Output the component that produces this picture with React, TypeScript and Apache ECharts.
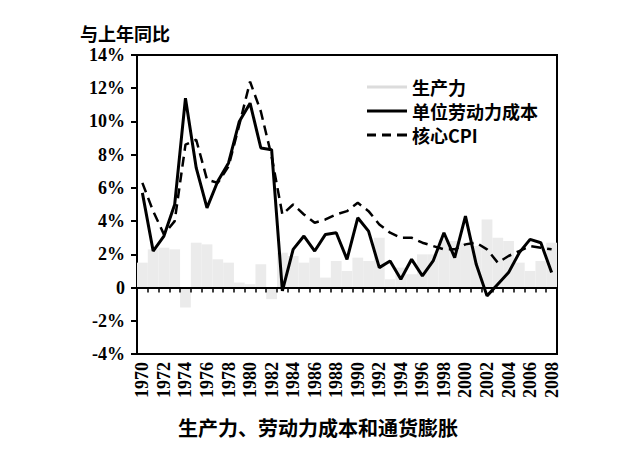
import React, { useEffect, useRef } from "react";
import * as echarts from "echarts";

const years = [
  "1970", "1971", "1972", "1973", "1974", "1975", "1976", "1977", "1978", "1979",
  "1980", "1981", "1982", "1983", "1984", "1985", "1986", "1987", "1988", "1989",
  "1990", "1991", "1992", "1993", "1994", "1995", "1996", "1997", "1998", "1999",
  "2000", "2001", "2002", "2003", "2004", "2005", "2006", "2007", "2008",
];

// 生产力 (faint stippled bars)
const productivity = [
  1.5, 2.3, 2.4, 2.3, -1.2, 2.7, 2.6, 1.7, 1.5, 0.3,
  0.2, 1.4, -0.7, 2.1, 1.9, 1.5, 1.8, 0.6, 1.6, 1.0,
  1.8, 1.6, 3.0, 0.5, 1.2, 0.8, 2.0, 2.0, 2.9, 2.8,
  2.7, 2.5, 4.1, 3.0, 2.8, 1.5, 1.0, 1.6, 2.7,
];

// 单位劳动力成本
const unitLaborCost = [
  5.7, 2.2, 3.1, 5.0, 11.4, 7.2, 4.8, 6.4, 7.5, 10.0,
  11.1, 8.4, 8.3, -0.2, 2.3, 3.1, 2.2, 3.2, 3.3, 1.7,
  4.2, 3.4, 1.2, 1.6, 0.5, 1.7, 0.7, 1.6, 3.3, 1.8,
  4.3, 1.4, -0.5, 0.2, 0.9, 2.1, 2.9, 2.7, 0.9,
];

// 核心CPI
const coreCPI = [
  6.3, 4.6, 3.2, 4.0, 8.6, 8.9, 6.5, 6.3, 7.3, 9.8,
  12.4, 10.6, 7.9, 4.4, 5.0, 4.4, 3.9, 4.1, 4.4, 4.6,
  5.1, 4.6, 3.8, 3.3, 3.0, 3.0, 2.7, 2.5, 2.3, 2.3,
  2.6, 2.7, 2.3, 1.5, 1.9, 2.2, 2.5, 2.4, 2.3,
];

const yMin = -4;
const yMax = 14;
const yStep = 2;

const serif = "'Liberation Serif', 'Times New Roman', serif";
const cjk = "'Noto Sans CJK SC', sans-serif";

export default function App() {
  const ref = useRef<HTMLDivElement>(null);

  useEffect(() => {
    if (!ref.current) return;
    const chart = echarts.init(ref.current, null, { renderer: "svg" });
    chart.setOption({
      animation: false,
      backgroundColor: "#fff",
      title: [
        {
          text: "生产力、劳动力成本和通货膨胀",
          left: 178,
          top: 417,
          padding: 0,
          textStyle: { fontFamily: cjk, fontSize: 20, lineHeight: 20, fontWeight: "bold", color: "#000" },
        },
        {
          text: "与上年同比",
          left: 80,
          top: 24,
          padding: 0,
          textStyle: { fontFamily: cjk, fontSize: 18, lineHeight: 18, fontWeight: "bold", color: "#000" },
        },
      ],
      legend: {
        orient: "vertical",
        left: 367,
        top: 77,
        padding: 0,
        itemWidth: 40,
        itemHeight: 3,
        itemGap: 4,
        textStyle: { fontFamily: cjk, fontSize: 18, lineHeight: 20, fontWeight: "bold", color: "#000" },
        data: [
          { name: "生产力", icon: "rect", itemStyle: { color: "#dcdcdc" } },
          { name: "单位劳动力成本", icon: "rect", itemStyle: { color: "#000" } },
          {
            name: "核心CPI",
            icon: "path://M0,0h9v3h-9z M15,0h9v3h-9z M30,0h10v3h-10z",
            itemStyle: { color: "#000" },
          },
        ],
      },
      grid: {
        left: 137,
        right: 75,
        top: 55,
        bottom: 107,
        show: true,
        borderColor: "#000",
        borderWidth: 2,
        backgroundColor: "transparent",
      },
      xAxis: [
        {
          type: "category",
          data: years,
          position: "bottom",
          boundaryGap: true,
          axisLine: { show: false, onZero: false },
          axisTick: { show: false },
          axisLabel: {
            interval: 1,
            rotate: 90,
            margin: 8,
            fontFamily: serif,
            fontSize: 18,
            fontWeight: "bold",
            color: "#000",
          },
        },
        {
          type: "category",
          data: years,
          position: "bottom",
          boundaryGap: true,
          z: 5,
          axisLine: { show: true, onZero: true, lineStyle: { color: "#000", width: 2 } },
          axisTick: { show: true, interval: 0, length: 5, lineStyle: { color: "#000", width: 1.5 } },
          axisLabel: { show: false },
        },
      ],
      yAxis: {
        type: "value",
        min: yMin,
        max: yMax,
        interval: yStep,
        splitLine: { show: false },
        axisLine: { show: false },
        axisTick: { show: true, length: 6, lineStyle: { color: "#000", width: 2 } },
        axisLabel: {
          margin: 12,
          fontFamily: serif,
          fontSize: 18,
          lineHeight: 18,
          fontWeight: "bold",
          color: "#000",
          formatter: (v: number) => (v === 0 ? "0" : `${v}%`),
        },
      },
      series: [
        {
          name: "生产力",
          type: "bar",
          xAxisIndex: 0,
          data: productivity,
          barCategoryGap: "0%",
          itemStyle: { color: "#ebebeb" },
          z: 1,
        },
        {
          name: "单位劳动力成本",
          type: "line",
          xAxisIndex: 0,
          data: unitLaborCost,
          symbol: "none",
          lineStyle: { color: "#000", width: 3 },
          itemStyle: { color: "#000" },
          z: 6,
        },
        {
          name: "核心CPI",
          type: "line",
          xAxisIndex: 0,
          data: coreCPI,
          symbol: "none",
          lineStyle: { color: "#000", width: 2.5, type: [10, 6] },
          itemStyle: { color: "#000" },
          z: 6,
        },
      ],
    });
    return () => chart.dispose();
  }, []);

  return (
    <div
      ref={ref}
      style={{ position: "fixed", left: 0, top: 0, width: 632, height: 461, background: "#fff" }}
    />
  );
}
